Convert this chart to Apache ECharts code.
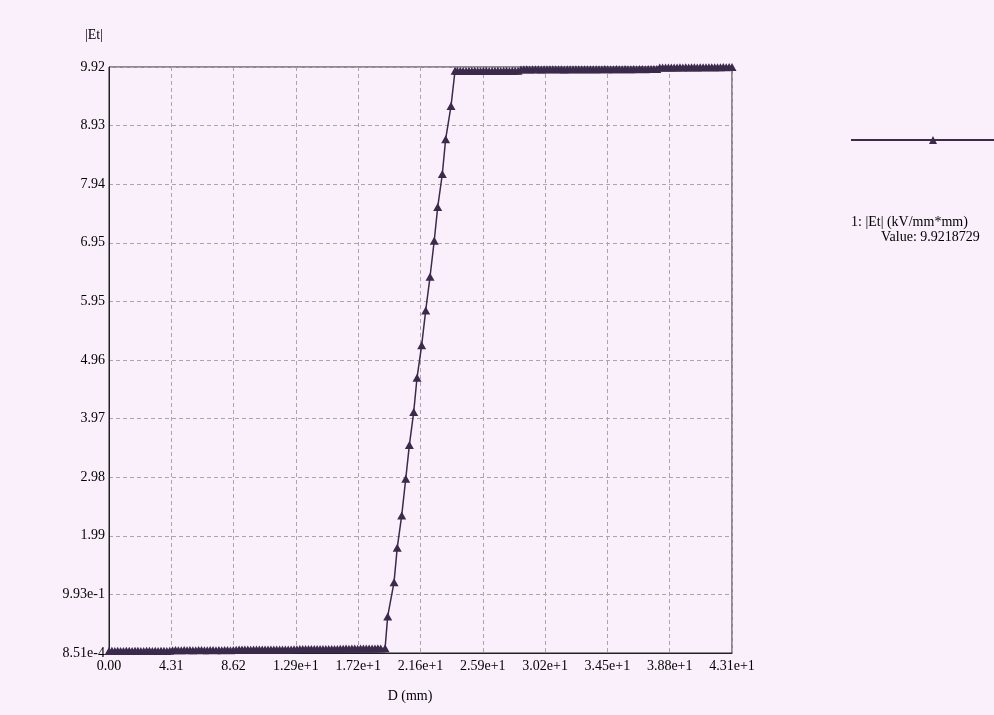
<!DOCTYPE html>
<html>
<head>
<meta charset="utf-8">
<script src="https://cdn.jsdelivr.net/npm/echarts@6/dist/echarts.min.js"></script>
<style>
  html, body { margin: 0; padding: 0; background: #faf0fc; }
  #chart { width: 994px; height: 715px; }
</style>
</head>
<body>
<div id="chart"></div>
<script>
// Tick labels as printed on the axes
const xTickLabels = ['0.00', '4.31', '8.62', '1.29e+1', '1.72e+1', '2.16e+1', '2.59e+1', '3.02e+1', '3.45e+1', '3.88e+1', '4.31e+1'];
const yTickLabels = ['8.51e-4', '9.93e-1', '1.99', '2.98', '3.97', '4.96', '5.95', '6.95', '7.94', '8.93', '9.92'];

const seriesName = '1: |Et| (kV/mm*mm)';

// Low-field stretch: distance (mm) and |Et| (kV/mm)
const lowD = [
  0.0, 0.2, 0.4, 0.6, 0.8, 1.0, 1.2, 1.4, 1.6, 1.8, 2.0, 2.2, 2.4, 2.6, 2.8, 3.0, 3.2, 3.4, 3.6, 3.8, 4.0, 4.2,
  4.4, 4.6, 4.8, 5.0, 5.2, 5.4, 5.6, 5.8, 6.0, 6.2, 6.4, 6.6, 6.8, 7.0, 7.2, 7.4, 7.6, 7.8, 8.0, 8.2, 8.4, 8.6,
  8.8, 9.0, 9.2, 9.4, 9.6, 9.8, 10.0, 10.2, 10.4, 10.6, 10.8, 11.0, 11.2, 11.4, 11.6, 11.8, 12.0, 12.2, 12.4, 12.6, 12.8,
  13.0, 13.2, 13.4, 13.6, 13.8, 14.0, 14.2, 14.4, 14.6, 14.8, 15.0, 15.2, 15.4, 15.6, 15.8, 16.0,
  16.2, 16.4, 16.6, 16.8, 17.0, 17.2, 17.4, 17.6, 17.8, 18.0, 18.2, 18.4, 18.6, 18.8, 19.1
];
const lowE = [
  0.034, 0.036, 0.035, 0.037, 0.035, 0.034, 0.036, 0.036, 0.035, 0.037, 0.036, 0.035, 0.034, 0.036, 0.037, 0.035, 0.036, 0.035, 0.037, 0.036, 0.035, 0.038,
  0.047, 0.049, 0.048, 0.047, 0.050, 0.048, 0.049, 0.047, 0.048, 0.050, 0.049, 0.048, 0.047, 0.049, 0.050, 0.048, 0.049, 0.048, 0.050, 0.049, 0.048, 0.051,
  0.057, 0.059, 0.058, 0.060, 0.058, 0.057, 0.059, 0.060, 0.058, 0.059, 0.061, 0.059, 0.058, 0.060, 0.059, 0.061, 0.060, 0.059, 0.061, 0.060, 0.062,
  0.065, 0.067, 0.066, 0.068, 0.066, 0.067, 0.069, 0.067, 0.068, 0.066, 0.068, 0.069, 0.067, 0.069, 0.068, 0.070,
  0.073, 0.075, 0.074, 0.076, 0.075, 0.074, 0.077, 0.075, 0.076, 0.078, 0.076, 0.077, 0.079, 0.078, 0.080
];

// Rising edge
const rampD = [19.28, 19.72, 19.94, 20.25, 20.53, 20.78, 21.08, 21.31, 21.63, 21.91, 22.21, 22.50, 22.74, 23.06, 23.29, 23.66, 23.94];
const rampE = [0.62, 1.20, 1.78, 2.33, 2.95, 3.52, 4.08, 4.66, 5.21, 5.80, 6.37, 6.98, 7.55, 8.11, 8.70, 9.26, 9.86];

// High-field plateau
const highD = [
  24.1, 24.3, 24.5, 24.7, 24.9, 25.1, 25.3, 25.5, 25.7, 25.9, 26.1, 26.3, 26.5, 26.7, 26.9, 27.1, 27.3, 27.5, 27.7, 27.9, 28.1, 28.3,
  28.5, 28.7, 28.9, 29.1, 29.3, 29.5, 29.7, 29.9, 30.1, 30.3, 30.5, 30.7, 30.9, 31.1, 31.3, 31.5, 31.7, 31.9, 32.1, 32.3, 32.5, 32.7, 32.9, 33.1,
  33.3, 33.5, 33.7, 33.9, 34.1, 34.3, 34.5, 34.7, 34.9, 35.1, 35.3, 35.5, 35.7, 35.9, 36.1, 36.3, 36.5, 36.7, 36.9, 37.1, 37.3, 37.5, 37.7, 37.9,
  38.1, 38.3, 38.5, 38.7, 38.9, 39.1, 39.3, 39.5, 39.7, 39.9, 40.1, 40.3, 40.5, 40.7, 40.9, 41.1, 41.3, 41.5, 41.7, 41.9, 42.1, 42.3, 42.5, 42.7, 42.9, 43.1
];
const highE = [
  9.855, 9.857, 9.854, 9.856, 9.858, 9.855, 9.857, 9.856, 9.854, 9.857, 9.858, 9.856, 9.855, 9.857, 9.859, 9.856, 9.857, 9.858, 9.856, 9.858, 9.859, 9.860,
  9.881, 9.883, 9.882, 9.880, 9.884, 9.882, 9.883, 9.881, 9.884, 9.882, 9.883, 9.885, 9.882, 9.884, 9.883, 9.881, 9.884, 9.883, 9.885, 9.882, 9.884, 9.883, 9.882, 9.884,
  9.885, 9.884, 9.882, 9.885, 9.884, 9.886, 9.883, 9.885, 9.884, 9.886, 9.885, 9.883, 9.886, 9.885, 9.884, 9.886, 9.885, 9.887, 9.886, 9.885, 9.887, 9.886, 9.888, 9.887,
  9.912, 9.914, 9.913, 9.915, 9.914, 9.913, 9.915, 9.916, 9.914, 9.916, 9.915, 9.917, 9.916, 9.915, 9.917, 9.918, 9.916, 9.918, 9.917, 9.919, 9.918, 9.919, 9.920, 9.919, 9.921, 9.9218729
];

const distance = lowD.concat(rampD, highD);
const field = lowE.concat(rampE, highE);
const points = distance.map((d, i) => [d, field[i]]);
const readout = highE[highE.length - 1];

const xStep = 4.31;
const yStep = 0.99219;
const ink = '#3b2a4b';
const fontFamily = '"Liberation Serif", "Times New Roman", serif';
const bg = '#faf0fc';

const chart = echarts.init(document.getElementById('chart'));
chart.setOption({
  backgroundColor: bg,
  animation: false,
  textStyle: { fontFamily: fontFamily },
  grid: {
    left: 109, top: 67, width: 623, height: 586,
    show: true, borderColor: '#222', borderWidth: 1, backgroundColor: 'transparent'
  },
  xAxis: {
    type: 'value', min: 0, max: 43.1, interval: xStep,
    name: 'D (mm)', nameLocation: 'middle', nameGap: 36,
    nameTextStyle: { color: '#000', fontSize: 14, fontFamily: fontFamily, padding: [0, 21, 0, 0] },
    axisLine: { lineStyle: { color: '#222', width: 1 } },
    axisTick: { show: false },
    axisLabel: {
      color: '#000', fontSize: 14, fontFamily: fontFamily, margin: 6,
      formatter: v => xTickLabels[Math.round(v / xStep)] || ''
    },
    splitLine: { lineStyle: { color: '#aaa4ae', width: 1, type: [4, 3] } }
  },
  yAxis: {
    type: 'value', min: 0, max: yStep * 10, interval: yStep,
    name: '|Et|', nameLocation: 'end', nameGap: 25,
    nameTextStyle: { color: '#000', fontSize: 14, fontFamily: fontFamily, align: 'right', padding: [0, 6, 0, 0] },
    axisLine: { lineStyle: { color: '#222', width: 1 } },
    axisTick: { show: false },
    axisLabel: {
      color: '#000', fontSize: 14, fontFamily: fontFamily, margin: 4,
      formatter: v => yTickLabels[Math.round(v / yStep)] || ''
    },
    splitLine: { lineStyle: { color: '#aaa4ae', width: 1, type: [4, 3] } }
  },
  legend: {
    left: 850, top: 135, padding: 0,
    itemWidth: 164, itemHeight: 10,
    formatter: () => '',
    data: [seriesName]
  },
  graphic: [
    {
      type: 'text', left: 851, top: 215,
      style: { text: seriesName, fill: '#000', font: '14px ' + fontFamily }
    },
    {
      type: 'text', left: 881, top: 230,
      style: { text: 'Value: ' + readout, fill: '#000', font: '14px ' + fontFamily }
    }
  ],
  series: [{
    type: 'line',
    name: seriesName,
    data: points,
    symbol: 'triangle',
    symbolSize: [9, 8],
    showAllSymbol: true,
    clip: true,
    lineStyle: { color: ink, width: 1.5 },
    itemStyle: { color: ink }
  }]
});
</script>
</body>
</html>
